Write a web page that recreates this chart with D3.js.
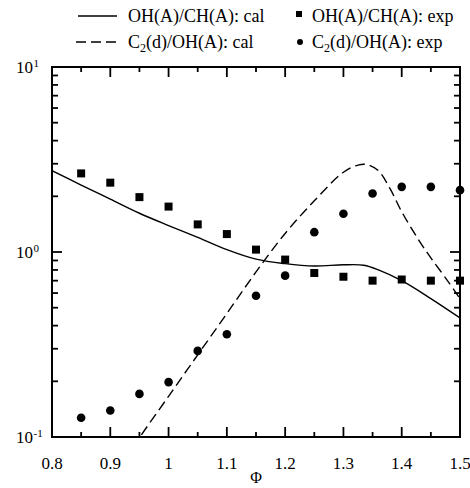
<!DOCTYPE html>
<html>
<head>
<meta charset="utf-8">
<script src="https://cdn.jsdelivr.net/npm/d3@7"></script>
<style>
  body { margin: 0; background: #fff; }
  svg { display: block; font-family: "Liberation Serif", "Times New Roman", serif; }
</style>
</head>
<body>
<svg id="chart" width="470" height="488"></svg>
<script>
// Equivalence ratio grid of the measurements
const phiExp = [0.85, 0.9, 0.95, 1.0, 1.05, 1.1, 1.15, 1.2, 1.25, 1.3, 1.35, 1.4, 1.45, 1.5];
// OH(A)/CH(A) measured ratio
const ohChExp = [2.66, 2.37, 1.98, 1.76, 1.41, 1.25, 1.03, 0.91, 0.77, 0.735, 0.70, 0.71, 0.70, 0.70];
// C2(d)/OH(A) measured ratio
const c2OhExp = [0.127, 0.139, 0.171, 0.198, 0.292, 0.359, 0.58, 0.745, 1.28, 1.61, 2.07, 2.25, 2.25, 2.16];

// OH(A)/CH(A) computed ratio
const phiCalOh = [0.8, 0.85, 0.9, 0.95, 1.0, 1.05, 1.1, 1.15, 1.2, 1.25, 1.3, 1.335, 1.36, 1.4, 1.45, 1.5];
const ohChCal = [2.75, 2.30, 1.93, 1.62, 1.39, 1.20, 1.03, 0.915, 0.865, 0.84, 0.853, 0.848, 0.80, 0.70, 0.56, 0.44];

// C2(d)/OH(A) computed ratio
const phiCalC2 = [0.94, 0.951, 1.0, 1.05, 1.1, 1.15, 1.2, 1.25, 1.3, 1.325, 1.34, 1.36, 1.38, 1.4, 1.43, 1.45, 1.48, 1.5];
const c2OhCal = [0.088, 0.1, 0.166, 0.278, 0.465, 0.78, 1.26, 1.89, 2.7, 2.95, 2.97, 2.75, 2.2, 1.65, 1.15, 0.93, 0.69, 0.56];

const xMajor = [0.8, 0.9, 1.0, 1.1, 1.2, 1.3, 1.4, 1.5];
const xMinor = [0.85, 0.95, 1.05, 1.15, 1.25, 1.35, 1.45];
const xTickLabels = ["0.8", "0.9", "1", "1.1", "1.2", "1.3", "1.4", "1.5"];
const yMajor = [0.1, 1, 10];
const yExponents = ["-1", "0", "1"];
const xTitle = "Φ";

const svg = d3.select("#chart");
const pL = 52, pR = 460, pT = 67, pB = 437;

const x = d3.scaleLinear().domain([0.8, 1.5]).range([pL, pR]);
const y = d3.scaleLog().domain([0.1, 10]).range([pB, pT]);

const yMinor = [];
for (let d = 0.1; d < 10; d *= 10) {
  for (let k = 2; k <= 9; k++) yMinor.push(+(d * k).toPrecision(3));
}

svg.append("defs").append("clipPath").attr("id", "plotClip")
  .append("rect").attr("x", pL).attr("y", pT)
  .attr("width", pR - pL).attr("height", pB - pT);

// ---- tick marks (inward on all four sides) ----
const ticks = svg.append("g").attr("stroke", "#000").attr("stroke-width", 1.8);

function xTicks(vals, len) {
  ticks.selectAll(null).data(vals).enter().append("line")
    .attr("x1", d => x(d)).attr("x2", d => x(d))
    .attr("y1", pB).attr("y2", pB - len);
  ticks.selectAll(null).data(vals).enter().append("line")
    .attr("x1", d => x(d)).attr("x2", d => x(d))
    .attr("y1", pT).attr("y2", pT + len);
}
function yTicks(vals, len) {
  ticks.selectAll(null).data(vals).enter().append("line")
    .attr("y1", d => y(d)).attr("y2", d => y(d))
    .attr("x1", pL).attr("x2", pL + len);
  ticks.selectAll(null).data(vals).enter().append("line")
    .attr("y1", d => y(d)).attr("y2", d => y(d))
    .attr("x1", pR).attr("x2", pR - len);
}
xTicks(xMajor, 10);
xTicks(xMinor, 5);
yTicks(yMajor, 10);
yTicks(yMinor, 6);

// ---- frame ----
svg.append("rect")
  .attr("x", pL).attr("y", pT)
  .attr("width", pR - pL).attr("height", pB - pT)
  .attr("fill", "none").attr("stroke", "#000").attr("stroke-width", 2);

// ---- x tick labels ----
svg.append("g").selectAll("text").data(xMajor).enter().append("text")
  .attr("x", d => x(d)).attr("y", 469)
  .attr("text-anchor", "middle").attr("font-size", 17)
  .text((d, i) => xTickLabels[i]);

svg.append("text").attr("x", (pL + pR) / 2).attr("y", 483)
  .attr("text-anchor", "middle").attr("font-size", 16).text(xTitle);

// ---- y tick labels: powers of ten ----
const yl = svg.append("g").selectAll("g").data(yMajor).enter().append("g")
  .attr("transform", d => `translate(33,${y(d) + 6})`);
yl.append("text").attr("text-anchor", "end").attr("font-size", 17).text("10");
yl.append("text").attr("x", 0.5).attr("y", -6).attr("font-size", 11)
  .text((d, i) => yExponents[i]);

// ---- computed curves ----
const plot = svg.append("g").attr("clip-path", "url(#plotClip)");
const line = d3.line().curve(d3.curveCatmullRom.alpha(0.5))
  .x(d => x(d[0])).y(d => y(d[1]));

plot.append("path")
  .datum(phiCalOh.map((p, i) => [p, ohChCal[i]]))
  .attr("d", line).attr("fill", "none")
  .attr("stroke", "#000").attr("stroke-width", 1.4);

plot.append("path")
  .datum(phiCalC2.map((p, i) => [p, c2OhCal[i]]))
  .attr("d", line).attr("fill", "none")
  .attr("stroke", "#000").attr("stroke-width", 1.4)
  .attr("stroke-dasharray", "10,5");

// ---- measured points ----
const sq = 8;
svg.append("g").selectAll("rect").data(phiExp).enter().append("rect")
  .attr("x", d => x(d) - sq / 2)
  .attr("y", (d, i) => y(ohChExp[i]) - sq / 2)
  .attr("width", sq).attr("height", sq).attr("fill", "#000");

svg.append("g").selectAll("circle").data(phiExp).enter().append("circle")
  .attr("cx", d => x(d))
  .attr("cy", (d, i) => y(c2OhExp[i]))
  .attr("r", 4.3).attr("fill", "#000");

// ---- legend ----
const lg = svg.append("g").attr("font-size", 18);
lg.append("line").attr("x1", 78).attr("x2", 117).attr("y1", 16).attr("y2", 16)
  .attr("stroke", "#000").attr("stroke-width", 1.4);
lg.append("text").attr("x", 128).attr("y", 22).text("OH(A)/CH(A): cal");

lg.append("line").attr("x1", 76).attr("x2", 117).attr("y1", 42).attr("y2", 42)
  .attr("stroke", "#000").attr("stroke-width", 1.4).attr("stroke-dasharray", "10,5");
const t2 = lg.append("text").attr("x", 128).attr("y", 48);
t2.append("tspan").text("C");
t2.append("tspan").attr("font-size", 12).attr("dy", 4).text("2");
t2.append("tspan").attr("dy", -4).text("(d)/OH(A): cal");

lg.append("rect").attr("x", 296).attr("y", 11).attr("width", 6).attr("height", 6).attr("fill", "#000");
lg.append("text").attr("x", 312).attr("y", 22).text("OH(A)/CH(A): exp");

lg.append("circle").attr("cx", 300).attr("cy", 42).attr("r", 3).attr("fill", "#000");
const t4 = lg.append("text").attr("x", 312).attr("y", 48);
t4.append("tspan").text("C");
t4.append("tspan").attr("font-size", 12).attr("dy", 4).text("2");
t4.append("tspan").attr("dy", -4).text("(d)/OH(A): exp");
</script>
</body>
</html>
